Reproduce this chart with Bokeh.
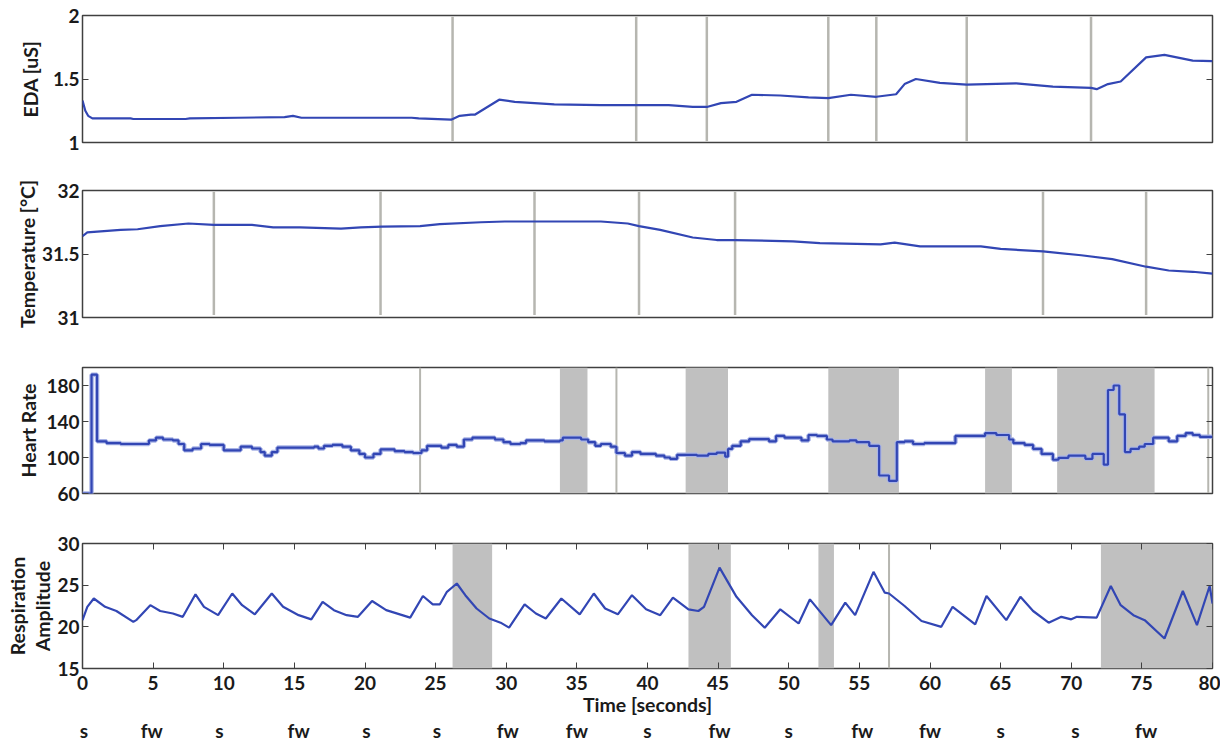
from bokeh.plotting import figure
from bokeh.layouts import column
from bokeh.models import Range1d, FixedTicker, LinearAxis, CustomJSTickFormatter
from bokeh.embed import file_html
from bokeh.resources import INLINE

# ---------------- data ----------------
eda_t = [0, 0.2, 0.4, 0.7, 3.4, 3.6, 7.3, 7.6, 11.0, 14.3, 14.9, 15.5, 23.3, 23.8, 26.1, 26.7,
         27.5, 27.8, 29.5, 30.6, 33.4, 36.7, 41.5, 43.2, 44.2, 45.2, 46.3, 47.4, 49.4, 51.4,
         52.8, 54.4, 56.2, 57.6, 58.2, 59.0, 60.7, 62.6, 66.1, 68.7, 71.4, 71.8, 72.6, 73.5,
         75.3, 76.6, 78.6, 80]
eda_v = [1.33, 1.25, 1.21, 1.19, 1.19, 1.185, 1.185, 1.19, 1.195, 1.2, 1.21, 1.195, 1.195, 1.19,
         1.18, 1.21, 1.22, 1.22, 1.337, 1.32, 1.30, 1.295, 1.295, 1.28, 1.28, 1.31, 1.32, 1.376,
         1.37, 1.355, 1.35, 1.376, 1.36, 1.38, 1.46, 1.5, 1.47, 1.455, 1.466, 1.44, 1.43, 1.42,
         1.46, 1.48, 1.67, 1.69, 1.645, 1.64]
eda_lines = [26.2, 39.2, 44.2, 52.8, 56.2, 62.6, 71.4]

temp_t = [0, 0.34, 2.7, 3.9, 5.5, 7.5, 9.3, 12.0, 13.5, 15.4, 18.3, 19.7, 21.2, 23.9, 25.3, 28.2,
          29.9, 32.1, 36.7, 38.6, 39.4, 40.9, 43.2, 44.9, 46.2, 50.3, 52.2, 56.5, 57.5, 59.3,
          63.6, 65.0, 68.0, 70.7, 72.9, 75.3, 76.9, 78.6, 80]
temp_v = [31.64, 31.67, 31.69, 31.695, 31.72, 31.74, 31.73, 31.73, 31.71, 31.71, 31.70, 31.71,
          31.716, 31.72, 31.735, 31.75, 31.756, 31.756, 31.756, 31.74, 31.72, 31.69, 31.63, 31.61,
          31.61, 31.60, 31.585, 31.576, 31.59, 31.56, 31.56, 31.54, 31.52, 31.49, 31.46, 31.40,
          31.37, 31.36, 31.345]
temp_lines = [9.3, 21.1, 32.0, 39.4, 46.2, 68.0, 75.3]

hr_t = [0, 0.64, 1.03, 1.7, 2.7, 4.7, 5.2, 5.7, 6.4, 6.8, 7.2, 7.8, 8.4, 9.0, 10.0, 11.2, 12.0,
        12.6, 12.9, 13.4, 13.8, 16.4, 16.7, 17.1, 17.7, 18.4, 19.0, 19.6, 20.0, 20.6, 21.1, 22.1,
        22.8, 23.4, 24.0, 24.4, 25.4, 25.9, 26.5, 27.0, 27.6, 29.2, 29.8, 30.3, 31.0, 31.4, 32.7,
        33.8, 34.0, 35.3, 35.8, 36.3, 36.7, 37.4, 37.8, 38.4, 38.9, 39.5, 40.6, 41.2, 41.6, 42.1,
        43.5, 44.3, 44.9, 45.5, 45.7, 46.0, 46.6, 47.2, 48.6, 49.1, 49.7, 50.9, 51.4, 52.0, 52.7,
        53.1, 54.3, 54.8, 55.7, 56.4, 57.1, 57.65, 58.2, 58.8, 59.6, 61.8, 63.9, 64.7, 65.6, 65.9,
        66.7, 67.3, 67.9, 68.7, 69.1, 69.8, 71.0, 71.5, 72.3, 72.6, 73.0, 73.4, 73.8, 74.2, 74.8,
        75.2, 75.8, 76.9, 77.5, 78.1, 78.6, 79.1, 80]
hr_v = [60, 192, 118, 116, 115, 119, 122, 120, 119, 115, 108, 110, 115, 114, 108, 112, 110,
        106, 102, 106, 111, 112, 110, 113, 114, 112, 108, 104, 100, 104, 109, 107,
        106, 105, 108, 113, 111, 114, 112, 120, 122, 120, 117, 115, 116, 119, 118,
        119, 122, 120, 117, 113, 115, 112, 105, 102, 106, 104, 102, 100, 98.5, 103,
        102, 104, 105.5, 101, 109.5, 113, 118, 120.5, 118, 124, 122, 119, 125, 124, 120,
        118, 119, 117, 113, 80, 74, 117, 118, 115, 116, 124, 127, 125, 120, 116,
        114, 109.5, 104, 97.5, 99.6, 102, 98.5, 104, 92, 175, 180, 148, 106, 109.5, 112,
        115, 122, 118, 124, 127, 125, 123, 123]
hr_box_start = [33.8, 42.7, 52.8, 63.9, 69.0]
hr_box_end = [35.75, 45.7, 57.8, 65.8, 75.9]
hr_lines = [23.9, 37.8, 79.7]

resp_t = [0, 0.34, 0.8, 1.6, 2.4, 3.6, 3.8, 4.8, 5.5, 6.4, 7.1, 8.0, 8.6, 9.6, 10.6, 11.3, 12.2,
          13.4, 14.2, 15.3, 16.2, 17.0, 17.8, 18.7, 19.5, 20.5, 21.5, 23.2, 24.1, 24.8, 25.3,
          25.8, 26.5, 27.1, 27.9, 28.8, 29.6, 30.2, 31.3, 32.1, 32.8, 33.9, 35.2, 36.2, 37.0,
          37.9, 38.9, 39.9, 40.9, 41.8, 42.9, 43.6, 44.0, 45.1, 46.3, 47.4, 48.3, 49.4, 50.7,
          51.5, 53.0, 54.0, 54.7, 56.0, 56.8, 57.1, 58.2, 59.4, 60.8, 61.6, 63.2, 64.0, 65.4,
          66.4, 67.3, 68.4, 69.3, 70.0, 70.4, 71.8, 72.8, 73.5, 74.4, 75.2, 76.6, 77.9, 78.9,
          79.8, 80]
resp_v = [20.8, 22.4, 23.4, 22.4, 21.9, 20.6, 20.8, 22.6, 21.9, 21.6, 21.2, 23.9, 22.4, 21.4,
          24.0, 22.6, 21.5, 24.0, 22.4, 21.4, 20.9, 23.0, 22.0, 21.4, 21.2, 23.1, 22.0, 21.1,
          23.7, 22.7, 22.7, 24.2, 25.2, 23.8, 22.2, 21.0, 20.5, 19.9, 22.7, 21.6, 21.0, 23.4,
          21.5, 24.0, 22.2, 21.5, 23.8, 22.1, 21.4, 23.5, 22.1, 21.9, 22.4, 27.1, 23.6, 21.4,
          19.9, 22.1, 20.4, 23.3, 20.2, 22.9, 21.4, 26.6, 24.1, 24.0, 22.5, 20.7, 20.0, 22.4,
          20.3, 23.7, 20.8, 23.6, 21.9, 20.5, 21.2, 20.9, 21.2, 21.1, 24.9, 22.6, 21.4, 20.8,
          18.6, 24.3, 20.2, 24.9, 22.8]
resp_box_start = [26.2, 42.9, 52.1, 72.1]
resp_box_end = [29.0, 45.9, 53.2, 80.0]
resp_lines = [57.1]

x_ticks = list(range(0, 81, 5))
state_pos = [0.1, 4.9, 9.7, 15.3, 20.1, 25.1, 30.1, 35.0, 40.0, 45.1, 50.0, 55.2, 60.0, 65.0, 70.3, 75.3]
state_lab = ["s", "fw", "s", "fw", "s", "s", "fw", "fw", "s", "fw", "s", "fw", "fw", "s", "s", "fw"]

# ---------------- style ----------------
FONT = "Lato"
TICK_FS = "19px"
LAB_FS = "19.5px"
TXT = "#1a1a1a"
BLUE = "#3246b4"
BOX = "#c0c0c0"
VLINE = "#b6b6b0"
FRAME = "#404040"

x_range = Range1d(0, 80)


def mirror_axis(ticks):
    return LinearAxis(ticker=FixedTicker(ticks=ticks), axis_line_color=None, major_tick_in=6,
                      major_tick_out=0, major_tick_line_color=FRAME, minor_tick_line_color=None,
                      major_label_text_font_size="1px", major_label_text_color=None,
                      major_label_standoff=0)


def panel(ymin, ymax, yticks, ylabel, frame_h, top_b, bot_b, lab_standoff, with_x=False):
    p = figure(x_range=x_range, y_range=Range1d(ymin, ymax), frame_width=1130, frame_height=frame_h,
               output_backend="svg", toolbar_location=None,
               min_border_left=82, min_border_right=8, min_border_top=top_b, min_border_bottom=bot_b,
               x_axis_location="below" if with_x else None)
    p.grid.visible = False
    p.outline_line_color = FRAME
    p.outline_line_width = 1.5
    ya = p.yaxis[0]
    ya.ticker = FixedTicker(ticks=yticks)
    ya.formatter = CustomJSTickFormatter(code="return String(tick)")
    ya.axis_line_color = None
    ya.major_tick_in = 6
    ya.major_tick_out = 0
    ya.major_tick_line_color = FRAME
    ya.minor_tick_line_color = None
    ya.major_label_standoff = 3
    ya.major_label_text_font = FONT
    ya.major_label_text_font_style = "bold"
    ya.major_label_text_font_size = TICK_FS
    ya.major_label_text_color = TXT
    ya.axis_label = ylabel
    ya.axis_label_text_font = FONT
    ya.axis_label_text_font_style = "bold"
    ya.axis_label_text_font_size = LAB_FS
    ya.axis_label_text_color = TXT
    ya.axis_label_text_line_height = 1.1
    ya.axis_label_standoff = lab_standoff
    p.add_layout(mirror_axis(yticks), "right")
    return p


# EDA
p1 = panel(1, 2, [1, 1.5, 2], "EDA [uS]", 127, 15, 24, 8)
p1.segment(x0=eda_lines, x1=eda_lines, y0=1.01, y1=1.99, line_color=VLINE, line_width=2.5)
p1.line(eda_t, eda_v, line_color=BLUE, line_width=2.2)

# Temperature
p2 = panel(31, 32, [31, 31.5, 32], "Temperature [°C]", 127, 24, 25, 0)
p2.segment(x0=temp_lines, x1=temp_lines, y0=31.02, y1=31.99, line_color=VLINE, line_width=2.5)
p2.line(temp_t, temp_v, line_color=BLUE, line_width=2.2)

# Heart rate
p3 = panel(60, 200, [60, 100, 140, 180], "Heart Rate", 126, 25, 25, 3)
p3.quad(left=hr_box_start, right=hr_box_end, bottom=60, top=200, fill_color=BOX, line_color=None)
p3.segment(x0=hr_lines, x1=hr_lines, y0=60, y1=200, line_color=VLINE, line_width=2)
p3.step(hr_t, hr_v, mode="after", line_color="#a9b4e6", line_width=4.5)
p3.step(hr_t, hr_v, mode="after", line_color=BLUE, line_width=2.2)

# Respiration
p4 = panel(15, 30, [15, 20, 25, 30], "Respiration\nAmplitude", 125, 25, 40, 0, with_x=True)
p4.quad(left=resp_box_start, right=resp_box_end, bottom=15, top=30, fill_color=BOX, line_color=None)
p4.segment(x0=resp_lines, x1=resp_lines, y0=15, y1=30, line_color=VLINE, line_width=2)
p4.line(resp_t, resp_v, line_color=BLUE, line_width=2.2)

xa = p4.xaxis[0]
xa.ticker = FixedTicker(ticks=x_ticks)
xa.axis_line_color = None
xa.major_tick_in = 6
xa.major_tick_out = 0
xa.major_tick_line_color = FRAME
xa.minor_tick_line_color = None
xa.major_label_standoff = 7
xa.major_label_text_font = FONT
xa.major_label_text_font_style = "bold"
xa.major_label_text_font_size = TICK_FS
xa.major_label_text_color = TXT
xa.axis_label = "Time [seconds]"
xa.axis_label_text_font = FONT
xa.axis_label_text_font_style = "bold"
xa.axis_label_text_font_size = LAB_FS
xa.axis_label_text_color = TXT
xa.axis_label_standoff = 0

p4.add_layout(mirror_axis(x_ticks), "above")

sa = LinearAxis(ticker=FixedTicker(ticks=state_pos),
                formatter=CustomJSTickFormatter(args=dict(labels=state_lab), code="return labels[index]"),
                axis_line_color=None, major_tick_line_color=None, minor_tick_line_color=None,
                major_tick_in=0, major_tick_out=0,
                major_label_standoff=0, major_label_text_font=FONT, major_label_text_font_style="bold",
                major_label_text_font_size=TICK_FS, major_label_text_color=TXT)
p4.add_layout(sa, "below")

layout = column(p1, p2, p3, p4, spacing=0)

open("out.html", "w").write(file_html(layout, INLINE))
